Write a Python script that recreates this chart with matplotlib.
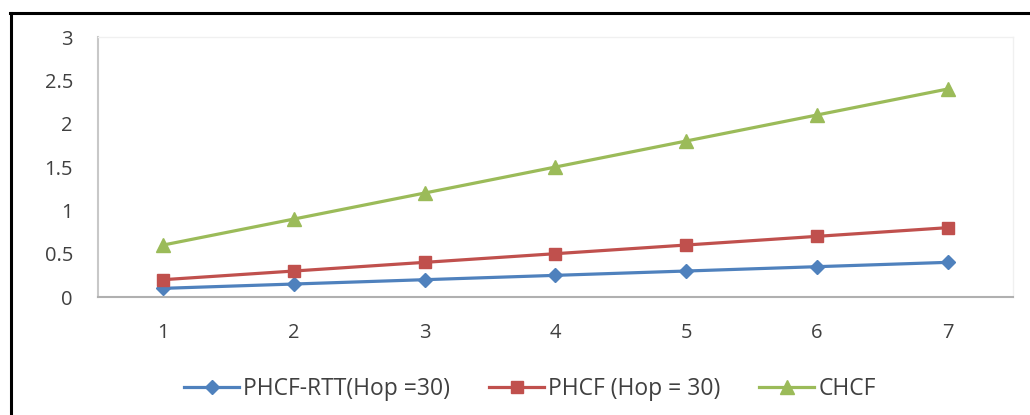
import matplotlib
matplotlib.use("Agg")
import matplotlib.pyplot as plt
from matplotlib.lines import Line2D

categories = [1, 2, 3, 4, 5, 6, 7]
phcf_rtt = [0.1, 0.15, 0.2, 0.25, 0.3, 0.35, 0.4]
phcf = [0.2, 0.3, 0.4, 0.5, 0.6, 0.7, 0.8]
chcf = [0.6, 0.9, 1.2, 1.5, 1.8, 2.1, 2.4]
series_names = ["PHCF-RTT(Hop =30)", "PHCF (Hop = 30)", "CHCF"]
y_ticks = [0, 0.5, 1, 1.5, 2, 2.5, 3]
y_tick_labels = ["0", "0.5", "1", "1.5", "2", "2.5", "3"]

plt.rcParams["font.family"] = ["Open Sans", "DejaVu Sans"]

fig = plt.figure(figsize=(10.3, 4.15), dpi=100)
ax = fig.add_axes([0.0951, 0.2843, 0.8884, 0.6265])

styles = [
    dict(color="#4F81BD", marker="D", markersize=7),
    dict(color="#C0504D", marker="s", markersize=8.5),
    dict(color="#9BBB59", marker="^", markersize=9.5),
]
for vals, name, st in zip([phcf_rtt, phcf, chcf], series_names, styles):
    ax.plot(categories, vals, color=st["color"], lw=2.3, marker=st["marker"],
            markersize=st["markersize"], markerfacecolor=st["color"],
            markeredgecolor=st["color"], label=name, clip_on=False, zorder=3)

ax.set_xlim(0.5, 7.5)
ax.set_ylim(0, 3)
ax.set_xticks(categories)
ax.set_xticklabels([str(c) for c in categories])
ax.set_yticks(y_ticks)
ax.set_yticklabels(y_tick_labels)
ax.tick_params(axis="both", length=0, labelsize=14.5, labelcolor="#404040")
ax.tick_params(axis="y", pad=18)
ax.tick_params(axis="x", pad=19)

ax.spines["left"].set_color("#c8c8c8")
ax.spines["left"].set_linewidth(1.5)
ax.spines["bottom"].set_color("#b0b0b0")
ax.spines["bottom"].set_linewidth(1.5)
for s in ("top", "right"):
    ax.spines[s].set_color("#f0f0f0")
    ax.spines[s].set_linewidth(1.0)

handles, labels = ax.get_legend_handles_labels()
leg = fig.legend(handles, labels, loc="center", bbox_to_anchor=(0.5146, 0.063),
                 ncol=3, frameon=False, fontsize=16.5, handlelength=2.4,
                 handletextpad=0.17, columnspacing=1.7)
for t in leg.get_texts():
    t.set_color("#404040")

# outer frame (left and top edges)
fig.add_artist(Line2D([0.0107, 0.0107], [0.0, 0.969], transform=fig.transFigure,
                      color="black", lw=2.2))
fig.add_artist(Line2D([0.0097, 1.0], [0.969, 0.969], transform=fig.transFigure,
                      color="black", lw=2.2))

fig.savefig("out.png", dpi=100)
